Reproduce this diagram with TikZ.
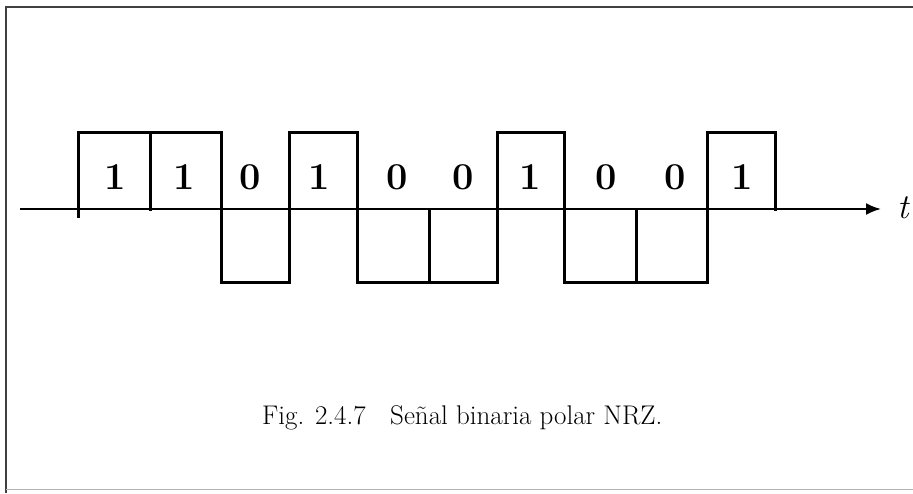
\documentclass[tikz,border=0pt]{standalone}
\usepackage{fontspec}
\usetikzlibrary{arrows.meta}
\begin{document}
\begin{tikzpicture}[x=1pt,y=-1pt,
  frameline/.style={line width=1.2pt, draw=black!75},
  wave/.style={line width=3pt, line join=miter, line cap=rect},
  taxis/.style={line width=2.2pt, -{Latex[length=15pt,width=12pt]}},
  bitlbl/.style={font=\fontsize{38}{38}\selectfont\bfseries, anchor=center, inner sep=0pt},
  caplbl/.style={font=\fontsize{27}{27}\selectfont, anchor=base west, inner sep=0pt}]
\useasboundingbox (0,0) rectangle (913,493);
% frame (top, left, bottom)
\draw[frameline] (913,7) -- (6,7) -- (6,493);
\draw[line width=1pt, draw=black!30] (6,489) -- (913,489);
% time axis
\coordinate (a0) at (20,209);
\coordinate (a1) at (881,209);
\draw[taxis] (a0) -- (a1);
\node[font=\fontsize{35}{35}\selectfont\itshape, anchor=base, inner sep=0pt] (tlbl) at (903,218) {t};
% NRZ polar waveform
\draw[wave] (78,216) -- (78,132) -- (221,132) -- (221,282) -- (289,282) -- (289,132)
  -- (357,132) -- (357,282) -- (497,282) -- (497,132) -- (564,132) -- (564,282)
  -- (707,282) -- (707,132) -- (775,132) -- (775,209);
% bit dividers
\draw[wave] (150,132) -- (150,209);
\draw[wave] (429,209) -- (429,282);
\draw[wave] (636,209) -- (636,282);
% bit labels
\node[bitlbl] (b1) at (115,177) {1};
\node[bitlbl] (b2) at (184,177) {1};
\node[bitlbl] (b3) at (250,177) {0};
\node[bitlbl] (b4) at (319,177) {1};
\node[bitlbl] (b5) at (397,177) {0};
\node[bitlbl] (b6) at (463,177) {0};
\node[bitlbl] (b7) at (530,177) {1};
\node[bitlbl] (b8) at (606,177) {0};
\node[bitlbl] (b9) at (675,177) {0};
\node[bitlbl] (b10) at (742,177) {1};
% caption
\node[caplbl, anchor=base east] (capA) at (366,424) {Fig. 2.4.7};
\node[caplbl] (capB) at (390,424) {Se\~nal binaria polar NRZ.};
\end{tikzpicture}
\end{document}
